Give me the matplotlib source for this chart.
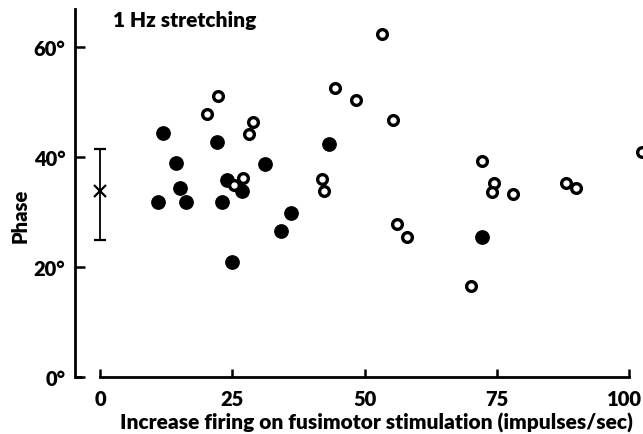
import matplotlib
matplotlib.use("Agg")
import matplotlib.pyplot as plt
from matplotlib.lines import Line2D
from matplotlib.transforms import ScaledTranslation

plt.rcParams['font.family'] = ['Lato', 'DejaVu Sans']
plt.rcParams['font.weight'] = 'heavy'

# filled circles
filled_x = [11.9, 14.3, 15.1, 11.0, 16.2, 22.2, 23.1, 24.0, 26.9, 31.2, 36.1, 34.2, 24.9, 43.3, 72.2]
filled_y = [44.5, 38.9, 34.5, 31.8, 31.8, 42.7, 31.8, 35.8, 33.8, 38.7, 29.9, 26.6, 21.0, 42.5, 25.5]

# open circles
open_x = [22.3, 20.2, 29.0, 28.1, 27.0, 25.3, 41.9, 42.3, 53.3, 44.4, 48.4, 55.4, 72.2, 74.5,
          74.1, 78.1, 88.1, 90.0, 102.5, 56.1, 58.0, 70.1]
open_y = [51.1, 47.8, 46.4, 44.3, 36.3, 35.0, 36.0, 33.8, 62.4, 52.6, 50.5, 46.7, 39.4, 35.4,
          33.6, 33.4, 35.4, 34.5, 41.0, 27.8, 25.5, 16.6]

# mean +- range shown at x = 0
mean_x = 0
mean_y = 33.8
err_lo = 25.0
err_hi = 41.6

xticks = [0, 25, 50, 75, 100]
yticks = [0, 20, 40, 60]
ytick_labels = ['0°', '20°', '40°', '60°']

fig = plt.figure(figsize=(6.43, 4.35), dpi=100)
ax = fig.add_axes([75 / 643, 1 - 378 / 435, 554 / 643, 368 / 435])

ax.plot(filled_x, filled_y, 'o', ms=9.6, color='black', mec='black', clip_on=False)
ax.plot(open_x, open_y, 'o', ms=7.0, mfc='white', mec='black', mew=2.4, clip_on=False)

ax.errorbar([mean_x], [mean_y], yerr=[[mean_y - err_lo], [err_hi - mean_y]], fmt='x',
            color='black', ms=8, mew=1.6, elinewidth=1.3, capsize=4.5, capthick=1.3,
            clip_on=False)

ax.set_xlim(-4.73, 100)
ax.set_ylim(0, 67)

for s in ['top', 'right']:
    ax.spines[s].set_visible(False)
ax.spines['left'].set_linewidth(2.0)
ax.spines['bottom'].set_linewidth(2.0)
ax.spines['bottom'].set_bounds(0, 100)

# small foot at the bottom of the y axis
foot = Line2D([0, 0.012], [0, 0], transform=ax.transAxes, color='black', lw=2.0,
              solid_capstyle='butt', clip_on=False)
ax.add_line(foot)

ax.set_xticks(xticks)
ax.set_xticklabels([str(t) for t in xticks])
ax.set_yticks(yticks)
ax.set_yticklabels(ytick_labels)
ax.tick_params(axis='both', direction='in', width=1.8, labelsize=14.5)
ax.tick_params(axis='y', length=7, pad=7)
ax.tick_params(axis='x', length=6, pad=9)

# nudge "100" left so it stays inside the figure
lab = ax.xaxis.get_major_ticks()[-1].label1
lab.set_transform(lab.get_transform() + ScaledTranslation(-3 / 72, 0, fig.dpi_scale_trans))

ax.set_xlabel('Increase firing on fusimotor stimulation (impulses/sec)', fontsize=15,
              fontweight='heavy')
ax.xaxis.set_label_coords(0.545, -0.096)
ax.set_ylabel('Phase', fontsize=14.5, fontweight='heavy')
ax.yaxis.set_label_coords(-0.082, 0.44)

ax.text(113 / 643, 1 - 20 / 435, '1 Hz stretching', transform=fig.transFigure,
        fontsize=15, fontweight='heavy', va='center', ha='left')

fig.savefig('out.png', dpi=100)
